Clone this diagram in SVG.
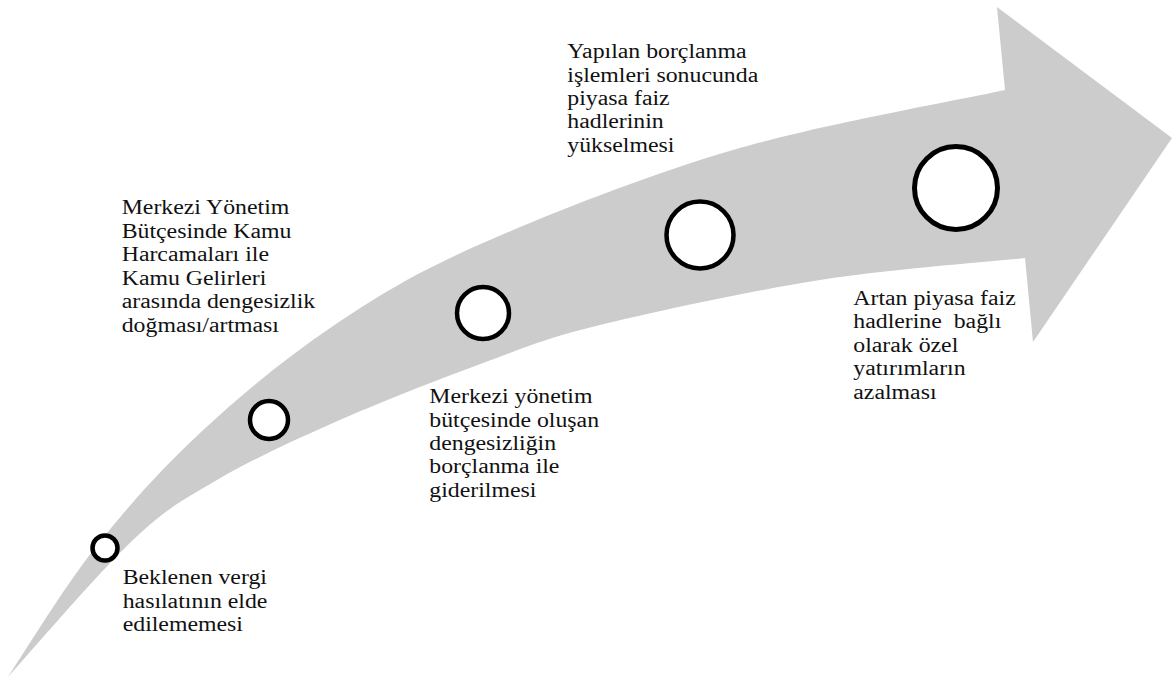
<svg xmlns="http://www.w3.org/2000/svg" width="1176" height="680" viewBox="0 0 1176 680">
<style>
.lbl{font-family:"Liberation Serif","Times New Roman",serif;font-size:20px;fill:#111}
.dot{fill:#fff;stroke:#000;stroke-width:4.5}
</style>
<rect width="1176" height="680" fill="#fff"/>
<g id="arrow">
<path fill="#cccccc" d="M8,677 C22.5,655.5 63,588.7 95,548 C127,507.3 160.3,470 200,433 C239.7,396 285.8,357.7 333,326 C380.2,294.3 416.3,272.3 483,243 C549.7,213.7 646,175.5 733,150 C820,124.5 959.7,100 1005,90 L997,7 L1172,138 L1033,342 L1025,258 C990.8,261.7 890.8,268.8 820,280 C749.2,291.2 656.2,311.2 600,325 C543.8,338.8 527.5,346.7 483,363 C438.5,379.3 377.3,403.5 333,423 C288.7,442.5 250.3,460.5 217,480 C183.7,499.5 167.8,507.2 133,540 C98.2,572.8 28.8,654.2 8,677 Z"/>
</g>
<g id="node1">
<circle class="dot" cx="105" cy="548" r="12.5"/>
<text class="lbl" transform="translate(122.7,584.3) scale(1.19,1)"><tspan x="0" y="0">Beklenen vergi</tspan><tspan x="0" y="23.6">hasılatının elde</tspan><tspan x="0" y="47.2">edilememesi</tspan></text>
</g>
<g id="node2">
<circle class="dot" cx="269" cy="420" r="19"/>
<text class="lbl" transform="translate(121.7,214.3) scale(1.19,1)"><tspan x="0" y="0">Merkezi Yönetim</tspan><tspan x="0" y="23.5">Bütçesinde Kamu</tspan><tspan x="0" y="47">Harcamaları ile</tspan><tspan x="0" y="70.5">Kamu Gelirleri</tspan><tspan x="0" y="94">arasında dengesizlik</tspan><tspan x="0" y="117.5">doğması/artması</tspan></text>
</g>
<g id="node3">
<circle class="dot" cx="483" cy="313" r="26"/>
<text class="lbl" transform="translate(429.3,403.3) scale(1.19,1)"><tspan x="0" y="0">Merkezi yönetim</tspan><tspan x="0" y="23.4">bütçesinde oluşan</tspan><tspan x="0" y="46.8">dengesizliğin</tspan><tspan x="0" y="70.2">borçlanma ile</tspan><tspan x="0" y="93.6">giderilmesi</tspan></text>
</g>
<g id="node4">
<circle class="dot" cx="700" cy="235" r="33.5"/>
<text class="lbl" transform="translate(567.3,58.3) scale(1.19,1)"><tspan x="0" y="0">Yapılan borçlanma</tspan><tspan x="0" y="23.4">işlemleri sonucunda</tspan><tspan x="0" y="46.8">piyasa faiz</tspan><tspan x="0" y="70.2">hadlerinin</tspan><tspan x="0" y="93.6">yükselmesi</tspan></text>
</g>
<g id="node5">
<circle class="dot" cx="956" cy="188" r="41.5" style="stroke-width:5"/>
<text class="lbl" transform="translate(853.3,305) scale(1.19,1)"><tspan x="0" y="0">Artan piyasa faiz</tspan><tspan x="0" y="23.4">hadlerine&#160; bağlı</tspan><tspan x="0" y="46.8">olarak özel</tspan><tspan x="0" y="70.2">yatırımların</tspan><tspan x="0" y="93.6">azalması</tspan></text>
</g>
<g id="connectors"></g>
</svg>
